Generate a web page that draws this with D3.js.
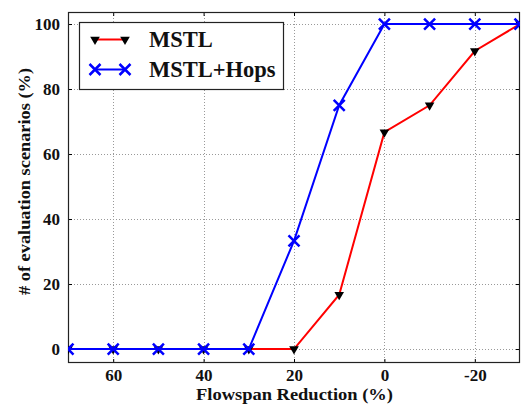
<!DOCTYPE html>
<html>
<head>
<meta charset="utf-8">
<script src="https://cdn.jsdelivr.net/npm/d3@7"></script>
<style>
  body { margin: 0; background: #fff; }
  svg text { font-family: "Liberation Serif", "DejaVu Serif", serif !important; font-weight: bold; }
</style>
</head>
<body>
<div id="chart"></div>
<script>
const reductions = [70, 60, 50, 40, 30, 20, 10, 0, -10, -20, -30]
const mstl = [0, 0, 0, 0, 0, 0, 16.7, 66.7, 75, 91.7, 100]
const mstlHops = [0, 0, 0, 0, 0, 33.3, 75, 100, 100, 100, 100]
const xTicks = [60, 40, 20, 0, -20]
const yTicks = [0, 20, 40, 60, 80, 100]
const seriesNames = ['MSTL', 'MSTL+Hops']

const width = 526
const height = 406
const margin = { top: 12, right: 6, bottom: 43, left: 68 }

const svg = d3.select('#chart').append('svg')
  .attr('width', width)
  .attr('height', height)

const x = d3.scaleLinear()
  .domain([70, -30])
  .range([margin.left, width - margin.right])

const y = d3.scaleLinear()
  .domain([-4.3, 103.7])
  .range([height - margin.bottom, margin.top])

svg.append('clipPath').attr('id', 'plot-clip')
  .append('rect')
    .attr('x', margin.left)
    .attr('y', margin.top)
    .attr('width', width - margin.left - margin.right)
    .attr('height', height - margin.top - margin.bottom)

// grid
const grid = svg.append('g').attr('stroke', '#999').attr('stroke-dasharray', '1,2').attr('stroke-width', 1)
grid.selectAll('.vgrid').data(xTicks).enter().append('line')
  .attr('x1', d => Math.round(x(d)) + 0.5).attr('x2', d => Math.round(x(d)) + 0.5)
  .attr('y1', margin.top).attr('y2', height - margin.bottom)
grid.selectAll('.hgrid').data(yTicks).enter().append('line')
  .attr('y1', d => Math.round(y(d)) + 0.5).attr('y2', d => Math.round(y(d)) + 0.5)
  .attr('x1', margin.left).attr('x2', width - margin.right)

// axes
const xAxis = d3.axisBottom(x).tickValues(xTicks).tickSize(-4).tickPadding(6).tickFormat(d => String(d))
svg.append('g')
  .attr('transform', 'translate(0,' + (height - margin.bottom) + ')')
  .call(xAxis)
  .call(g => g.select('.domain').remove())
  .call(g => g.selectAll('text').attr('font-size', 17).attr('fill', '#111'))

svg.append('g')
  .attr('transform', 'translate(' + (width - margin.right) + ',0)')
  .call(d3.axisRight(y).tickValues(yTicks).tickSize(-4).tickFormat(''))
  .call(g => g.select('.domain').remove())

svg.append('g')
  .attr('transform', 'translate(0,' + margin.top + ')')
  .call(d3.axisTop(x).tickValues(xTicks).tickSize(-4).tickFormat(''))
  .call(g => g.select('.domain').remove())

const yAxis = d3.axisLeft(y).tickValues(yTicks).tickSize(-4).tickPadding(8)
svg.append('g')
  .attr('transform', 'translate(' + margin.left + ',0)')
  .call(yAxis)
  .call(g => g.select('.domain').remove())
  .call(g => g.selectAll('text').attr('font-size', 17).attr('fill', '#111'))

// frame
svg.append('rect')
  .attr('x', margin.left + 0.5).attr('y', margin.top + 0.5)
  .attr('width', width - margin.left - margin.right - 1)
  .attr('height', height - margin.top - margin.bottom - 1)
  .attr('fill', 'none').attr('stroke', '#222').attr('stroke-width', 1.2)

// series
const plot = svg.append('g').attr('clip-path', 'url(#plot-clip)')
const line = d3.line().x(d => x(d[0])).y(d => y(d[1]))
const mstlPts = reductions.map((r, i) => [r, mstl[i]])
const hopsPts = reductions.map((r, i) => [r, mstlHops[i]])

const tri = d3.symbol().type(d3.symbolTriangle).size(40)
function drawTri (g, px, py) {
  g.append('path')
    .attr('d', tri())
    .attr('transform', 'translate(' + px + ',' + py + ') rotate(180)')
    .attr('fill', '#000')
}
function drawCross (g, px, py) {
  const s = 5.5
  g.append('path')
    .attr('d', 'M' + (px - s) + ',' + (py - s) + 'L' + (px + s) + ',' + (py + s) +
      'M' + (px - s) + ',' + (py + s) + 'L' + (px + s) + ',' + (py - s))
    .attr('stroke', '#0000ff').attr('stroke-width', 2.5).attr('fill', 'none')
}

plot.append('path').attr('d', line(mstlPts)).attr('fill', 'none').attr('stroke', '#ff0000').attr('stroke-width', 2)
mstlPts.forEach(p => drawTri(plot, x(p[0]), y(p[1])))
plot.append('path').attr('d', line(hopsPts)).attr('fill', 'none').attr('stroke', '#0000ff').attr('stroke-width', 2)
hopsPts.forEach(p => drawCross(plot, x(p[0]), y(p[1])))

// legend
const lg = svg.append('g')
lg.append('rect')
  .attr('x', 79.5).attr('y', 22.5).attr('width', 204).attr('height', 67)
  .attr('fill', '#fff').attr('stroke', '#222').attr('stroke-width', 1.2)
const rows = [39.5, 69.5]
lg.append('line').attr('x1', 95).attr('x2', 125).attr('y1', rows[0]).attr('y2', rows[0])
  .attr('stroke', '#ff0000').attr('stroke-width', 2)
drawTri(lg, 95, rows[0])
drawTri(lg, 125, rows[0])
lg.append('line').attr('x1', 95).attr('x2', 125).attr('y1', rows[1]).attr('y2', rows[1])
  .attr('stroke', '#0000ff').attr('stroke-width', 2)
drawCross(lg, 95, rows[1])
drawCross(lg, 125, rows[1])
lg.selectAll('.lbl').data(seriesNames).enter().append('text')
  .attr('x', 149).attr('y', (d, i) => rows[i] + 7)
  .attr('font-size', 22.5)
  .attr('fill', '#111')
  .text(d => d)

// titles
svg.append('text')
  .attr('x', 196).attr('y', 400)
  .attr('font-size', 17)
  .attr('textLength', 197)
  .attr('lengthAdjust', 'spacingAndGlyphs')
  .attr('fill', '#111')
  .text('Flowspan Reduction (%)')

svg.append('text')
  .attr('transform', 'translate(30,295) rotate(-90)')
  .attr('font-size', 17)
  .attr('textLength', 227)
  .attr('lengthAdjust', 'spacingAndGlyphs')
  .attr('fill', '#111')
  .text('# of evaluation scenarios (%)')
</script>
</body>
</html>
